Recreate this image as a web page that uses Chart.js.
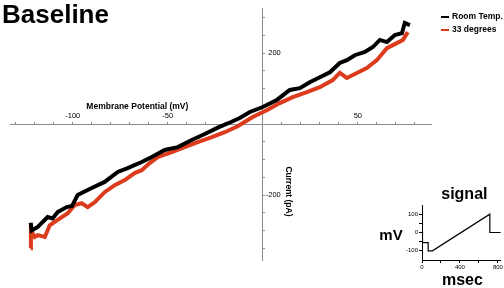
<!DOCTYPE html>
<html>
<head>
<meta charset="utf-8">
<title>Baseline</title>
<script src="https://cdn.jsdelivr.net/npm/chart.js@4.4.0/dist/chart.umd.min.js"></script>
<style>
    body { margin: 0; background: #fff; }
    #wrap { position: relative; width: 504px; height: 288px; }
    #stage { position: absolute; left: 0; top: 0; }
    #signal { position: absolute; left: 350px; top: 185px; }
</style>
</head>
<body>
<div id="wrap">
    <canvas id="stage" width="504" height="288"></canvas>
    <canvas id="signal" width="154" height="103"></canvas>
</div>
<script>
    var FONT = "'Liberation Sans', Arial, sans-serif";

    // ramp I-V, room temperature (mV / pA)
    var roomMv = [-122.1, -121.6, -118.4, -113.2, -110.6, -107.9, -103.2, -100.4, -97.4, -90.0, -83.2, -76.3, -71.1, -63.7, -58.4, -51.6, -44.7, -37.4, -30.5, -23.7, -17.0, -12.1, -6.8, 0.0, 7.4, 14.2, 19.5, 24.7, 30.0, 35.3, 40.5, 44.2, 48.4, 53.7, 57.9, 61.6, 65.3, 69.5, 73.2, 74.7, 77.4];
    var roomPa = [-278, -300, -290, -262, -266, -248, -234, -231, -200, -180, -163, -135, -124, -107, -93, -73, -65, -45, -28, -10, 5, 17, 34, 48, 68, 96, 101, 118, 132, 146, 172, 180, 194, 203, 217, 237, 231, 251, 256, 285, 279];

    // ramp I-V, 33 degrees
    var warmMv = [-122.1, -122.0, -120.0, -118.4, -114.7, -112.1, -107.9, -102.6, -98.9, -95.3, -92.1, -88.4, -83.2, -77.9, -72.6, -67.4, -63.7, -59.5, -55.3, -47.9, -41.1, -34.2, -26.8, -20.0, -13.2, -5.3, 2.1, 8.9, 15.8, 23.2, 30.0, 36.8, 40.5, 44.2, 49.5, 54.7, 60.0, 65.3, 70.5, 73.7, 76.3];
    var warmPa = [-350, -300, -318, -313, -318, -285, -270, -251, -228, -223, -234, -220, -192, -172, -158, -138, -130, -110, -93, -79, -65, -51, -37, -23, -6, 20, 39, 59, 76, 90, 104, 124, 144, 130, 144, 158, 180, 214, 228, 237, 259];

    var seriesNames = ['Room Temp.', '33 degrees'];
    var seriesColors = ['#000000', '#dd3b1d'];
    var xTicks = [-130, -120, -110, -100, -90, -80, -70, -60, -50, -40, -30, -20, -10, 0, 10, 20, 30, 40, 50, 60, 70, 80];
    var yTicks = [-350, -300, -250, -200, -150, -100, -50, 0, 50, 100, 150, 200, 250, 300];
    var xTickLabels = [-100, -50, 50];
    var yTickLabels = [200, -200];

    // voltage protocol for the inset
    var protoMs = [0, 5, 5, 65, 65, 110, 715, 715, 830];
    var protoMv = [0, 0, -55, -55, -100, -100, 100, 0, 0];
    var protoXTicks = [0, 200, 400, 600, 800];
    var protoYTicks = [-100, -50, 0, 50, 100];
    var protoXLabels = [0, 400, 800];
    var protoYLabels = [100, 0, -100];

    function toPoints(xs, ys) {
        var pts = [];
        for (var i = 0; i < xs.length; i++) {
            pts.push({x: xs[i], y: ys[i]});
        }
        return pts;
    }

    // Chart.js widens the step when the axis is short, so set the ticks by hand
    function fixedTicks(values) {
        return function (scale) {
            scale.ticks = values.map(function (v) { return {value: v}; });
        };
    }

    // title, y labels, axis titles and legend for the I-V plot
    var ivText = {
        id: 'ivText',
        afterDraw: function (chart) {
            var ctx = chart.ctx;
            var xs = chart.scales.x, ys = chart.scales.y;
            var x0 = xs.getPixelForValue(0), y0 = ys.getPixelForValue(0);
            ctx.save();
            ctx.fillStyle = '#000';
            ctx.font = 'bold 26px ' + FONT;
            ctx.textAlign = 'left';
            ctx.textBaseline = 'alphabetic';
            ctx.fillText('Baseline', 2, 23);

            ctx.font = '7.5px ' + FONT;
            ctx.textAlign = 'right';
            ctx.textBaseline = 'middle';
            yTickLabels.forEach(function (v) {
                ctx.fillText(String(v), x0 + 18, ys.getPixelForValue(v));
            });

            ctx.font = 'bold 8.5px ' + FONT;
            ctx.textAlign = 'center';
            ctx.fillText('Membrane Potential (mV)', xs.getPixelForValue(-66), y0 - 17);
            ctx.save();
            ctx.translate(x0 + 26, ys.getPixelForValue(-190));
            ctx.rotate(Math.PI / 2);
            ctx.fillText('Current (pA)', 0, 0);
            ctx.restore();

            // legend
            var lx = chart.chartArea.right + 10;
            ctx.textAlign = 'left';
            chart.data.datasets.forEach(function (ds, i) {
                var ly = 17 + i * 13;
                ctx.strokeStyle = ds.borderColor;
                ctx.lineWidth = 2;
                ctx.beginPath();
                ctx.moveTo(lx, ly);
                ctx.lineTo(lx + 8, ly);
                ctx.stroke();
                ctx.fillStyle = '#000';
                ctx.fillText(ds.label, lx + 11, ly);
            });
            ctx.restore();
        }
    };

    new Chart(document.getElementById('stage'), {
        type: 'line',
        data: {
            datasets: [
                {label: seriesNames[0], data: toPoints(roomMv, roomPa), borderColor: seriesColors[0], borderWidth: 4, pointRadius: 0, tension: 0},
                {label: seriesNames[1], data: toPoints(warmMv, warmPa), borderColor: seriesColors[1], borderWidth: 4, pointRadius: 0, tension: 0}
            ]
        },
        options: {
            responsive: false,
            animation: false,
            layout: {padding: {left: 10, top: 8, right: 73, bottom: 28}},
            plugins: {legend: {display: false}, tooltip: {enabled: false}},
            scales: {
                x: {
                    type: 'linear', position: {y: 0}, min: -133, max: 88.5,
                    grid: {drawOnChartArea: false, tickLength: -3, color: '#8c8c8c'},
                    border: {color: '#8c8c8c'},
                    afterBuildTicks: fixedTicks(xTicks),
                    ticks: {
                        autoSkip: false, maxRotation: 0, padding: -9.5, color: '#000',
                        font: {family: FONT, size: 7.5},
                        callback: function (v) { return xTickLabels.indexOf(v) >= 0 ? String(v) : ''; }
                    }
                },
                y: {
                    type: 'linear', position: {x: 0}, min: -383, max: 327,
                    grid: {drawOnChartArea: false, tickLength: -3, color: '#8c8c8c'},
                    border: {color: '#8c8c8c'},
                    afterBuildTicks: fixedTicks(yTicks),
                    ticks: {display: false}
                }
            }
        },
        plugins: [ivText]
    });

    // labels of the inset
    var signalText = {
        id: 'signalText',
        afterDraw: function (chart) {
            var ctx = chart.ctx, a = chart.chartArea;
            var y0 = chart.scales.y.getPixelForValue(0);
            ctx.save();
            ctx.fillStyle = '#000';
            ctx.textAlign = 'center';
            ctx.textBaseline = 'middle';
            ctx.font = 'bold 16px ' + FONT;
            ctx.fillText('signal', (a.left + a.right) / 2 + 3, 10);
            ctx.fillText('msec', (a.left + a.right) / 2 + 1, 96);
            ctx.font = 'bold 15px ' + FONT;
            ctx.fillText('mV', a.left - 31, y0 + 3);
            ctx.restore();
        }
    };

    new Chart(document.getElementById('signal'), {
        type: 'line',
        data: {
            datasets: [{data: toPoints(protoMs, protoMv), borderColor: '#000', borderWidth: 1.2, pointRadius: 0, tension: 0}]
        },
        options: {
            responsive: false,
            animation: false,
            layout: {padding: {left: 56, top: 20, right: 3, bottom: 16}},
            plugins: {legend: {display: false}, tooltip: {enabled: false}},
            scales: {
                x: {
                    type: 'linear', min: 0, max: 830,
                    grid: {drawOnChartArea: false, tickLength: 3, color: '#000'},
                    border: {color: '#000'},
                    afterBuildTicks: fixedTicks(protoXTicks),
                    afterFit: function (s) { s.height = 12; },
                    ticks: {
                        autoSkip: false, maxRotation: 0, padding: 1, color: '#000',
                        font: {family: FONT, size: 6},
                        callback: function (v) { return protoXLabels.indexOf(v) >= 0 ? String(v) : ''; }
                    }
                },
                y: {
                    type: 'linear', min: -150, max: 150,
                    grid: {drawOnChartArea: false, tickLength: 3, color: '#000'},
                    border: {color: '#000'},
                    afterBuildTicks: fixedTicks(protoYTicks),
                    afterFit: function (s) { s.width = 16; },
                    ticks: {
                        autoSkip: false, padding: 1, color: '#000',
                        font: {family: FONT, size: 6},
                        callback: function (v) { return protoYLabels.indexOf(v) >= 0 ? String(v) : ''; }
                    }
                }
            }
        },
        plugins: [signalText]
    });
</script>
</body>
</html>
